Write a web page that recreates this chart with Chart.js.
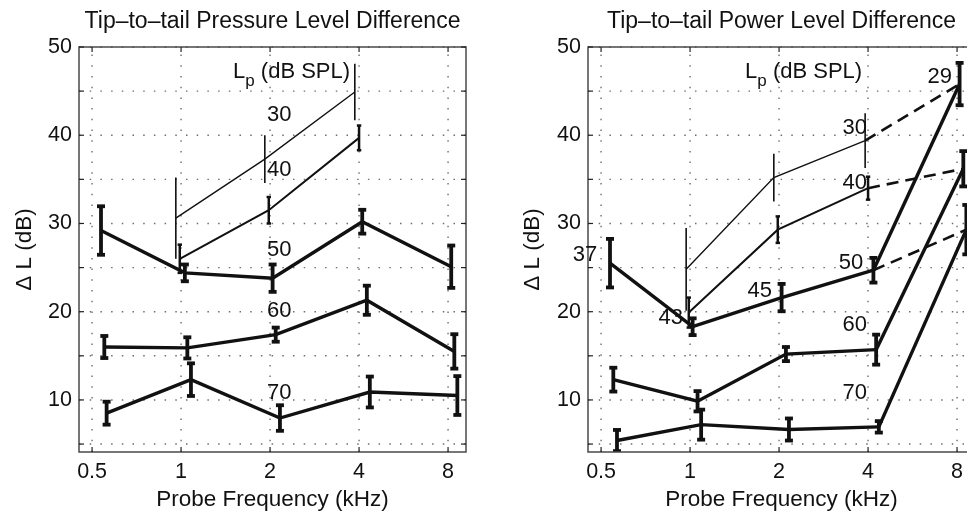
<!DOCTYPE html>
<html>
<head>
<meta charset="utf-8">
<script src="https://cdn.jsdelivr.net/npm/chart.js@4.4.0/dist/chart.umd.min.js"></script>
<style>
html, body { margin: 0; padding: 0; background: #fff; overflow: hidden; width: 967px; height: 513px; }
#wrapL { position: absolute; left: 0; top: 0; width: 480px; height: 513px; }
#wrapR { position: absolute; left: 480px; top: 0; width: 510px; height: 513px; }
</style>
</head>
<body>
<div id="wrapL"><canvas id="pressure" width="480" height="513"></canvas></div>
<div id="wrapR"><canvas id="power" width="510" height="513"></canvas></div>
<script>
const xTicks = [0.5, 1, 2, 4, 8];
const yTicks = [5, 10, 15, 20, 25, 30, 35, 40, 45, 50];

// left panel: pressure level difference
const pressFreq30 = [0.96, 1.92, 3.87];
const pressMean30 = [30.6, 37.3, 44.9];
const pressErr30 = [4.6, 2.7, 3.2];
const pressFreq40 = [0.99, 1.98, 4.0];
const pressMean40 = [26.0, 31.5, 39.7];
const pressErr40 = [1.6, 1.5, 1.4];
const pressFreq50 = [0.536, 1.03, 2.04, 4.1, 8.2];
const pressMean50 = [29.2, 24.4, 23.8, 30.2, 25.1];
const pressErr50 = [2.75, 0.95, 1.55, 1.35, 2.4];
const pressFreq60 = [0.55, 1.05, 2.09, 4.25, 8.4];
const pressMean60 = [16.0, 15.9, 17.4, 21.3, 15.5];
const pressErr60 = [1.25, 1.2, 0.8, 1.65, 1.95];
const pressFreq70 = [0.56, 1.08, 2.16, 4.35, 8.6];
const pressMean70 = [8.5, 12.3, 7.95, 10.9, 10.5];
const pressErr70 = [1.3, 1.85, 1.45, 1.75, 2.2];

// right panel: power level difference
const powFreq30 = [0.97, 1.92, 3.91];
const powMean30 = [24.8, 35.2, 39.4];
const powErr30 = [4.7, 2.7, 3.1];
const powFreq40 = [0.99, 1.98, 4.0];
const powMean40 = [19.9, 29.3, 34.0];
const powErr40 = [1.7, 1.5, 1.3];
const powFreq50 = [0.536, 1.02, 2.04, 4.17];
const powMean50 = [25.5, 18.3, 21.6, 24.7];
const powErr50 = [2.75, 0.95, 1.55, 1.4];
const powFreq60 = [0.55, 1.06, 2.11, 4.26];
const powMean60 = [12.3, 9.85, 15.2, 15.7];
const powErr60 = [1.35, 1.15, 0.8, 1.7];
const powFreq70 = [0.566, 1.09, 2.16, 4.35];
const powMean70 = [5.4, 7.2, 6.65, 6.95];
const powErr70 = [1.2, 1.7, 1.25, 0.65];
const powFreq8k = [8.16, 8.4, 8.6];
const powMean8k = [45.8, 36.2, 29.3];
const powErr8k = [2.4, 2.0, 2.8];

// level labels inside the plots
const pressLabels = ['30', '40', '50', '60', '70'];
const pressLabelFreq = [2.15, 2.15, 2.15, 2.15, 2.15];
const pressLabelVal = [42.3, 36.1, 27.0, 20.1, 10.8];
const powLabels = ['29', '30', '40', '37', '43', '45', '50', '60', '70'];
const powLabelFreq = [7.69, 3.97, 3.97, 0.485, 0.947, 1.893, 3.85, 3.97, 3.97];
const powLabelVal = [46.6, 40.8, 34.6, 26.4, 19.3, 22.4, 25.5, 18.5, 10.8];

const FAMILY = "'Liberation Sans', Arial, sans-serif";
const INK = '#111';

function pts(freq, mean) {
  return freq.map((f, i) => ({ x: f, y: mean[i] }));
}

function series(freq, mean, err, width, barWidth, cap) {
  return {
    data: pts(freq, mean), errors: err,
    borderColor: INK, borderWidth: width, pointRadius: 0,
    barWidth: barWidth, cap: cap, tension: 0
  };
}

function link(f1, v1, f2, v2, width, dash) {
  return {
    data: [{ x: f1, y: v1 }, { x: f2, y: v2 }],
    borderColor: INK, borderWidth: width, borderDash: dash || [], pointRadius: 0
  };
}

function strokeLine(ctx, x1, y1, x2, y2) {
  ctx.beginPath();
  ctx.moveTo(x1, y1);
  ctx.lineTo(x2, y2);
  ctx.stroke();
}

const decor = {
  id: 'decor',
  beforeDatasetsDraw(chart) {
    const { ctx, chartArea: a } = chart;
    const x = chart.scales.x, y = chart.scales.y;
    ctx.save();
    ctx.strokeStyle = '#6e6e6e';
    ctx.lineWidth = 1.4;
    ctx.setLineDash([1.5, 9.2]);
    xTicks.forEach(v => { const px = x.getPixelForValue(v); strokeLine(ctx, px, a.bottom, px, a.top); });
    yTicks.forEach(v => { const py = y.getPixelForValue(v); strokeLine(ctx, a.left, py, a.right, py); });
    ctx.restore();
  },
  afterDatasetsDraw(chart, args, opts) {
    const { ctx, chartArea: a } = chart;
    const x = chart.scales.x, y = chart.scales.y;

    // error bars
    ctx.save();
    ctx.beginPath();
    ctx.rect(a.left, a.top, a.right - a.left, a.bottom - a.top);
    ctx.clip();
    ctx.strokeStyle = INK;
    chart.data.datasets.forEach(ds => {
      if (!ds.errors) return;
      ds.data.forEach((p, i) => {
        const px = x.getPixelForValue(p.x);
        const top = y.getPixelForValue(p.y + ds.errors[i]);
        const bot = y.getPixelForValue(p.y - ds.errors[i]);
        ctx.lineWidth = ds.barWidth;
        strokeLine(ctx, px, top, px, bot);
        if (ds.cap > 0) {
          strokeLine(ctx, px - ds.cap, top, px + ds.cap, top);
          strokeLine(ctx, px - ds.cap, bot, px + ds.cap, bot);
        }
      });
    });
    ctx.restore();

    // box and inward ticks
    ctx.save();
    ctx.strokeStyle = '#4a4a4a';
    ctx.lineWidth = 1.5;
    ctx.strokeRect(a.left, a.top, a.right - a.left, a.bottom - a.top);
    ctx.strokeStyle = '#222';
    ctx.lineWidth = 1.2;
    xTicks.forEach(v => {
      const px = x.getPixelForValue(v);
      strokeLine(ctx, px, a.bottom, px, a.bottom - 5);
      strokeLine(ctx, px, a.top, px, a.top + 5);
    });
    yTicks.forEach(v => {
      const py = y.getPixelForValue(v);
      strokeLine(ctx, a.left, py, a.left + 5, py);
      strokeLine(ctx, a.right, py, a.right - 5, py);
    });
    ctx.restore();

    // labels
    ctx.save();
    ctx.fillStyle = INK;
    ctx.textBaseline = 'middle';
    ctx.font = '22px ' + FAMILY;
    ctx.textAlign = opts.align;
    opts.texts.forEach((t, i) => {
      ctx.fillText(t, x.getPixelForValue(opts.freqs[i]), y.getPixelForValue(opts.vals[i]));
    });
    // L_p (dB SPL)
    const big = '22px ' + FAMILY, small = '17px ' + FAMILY;
    ctx.textAlign = 'left';
    ctx.font = big;
    const wL = ctx.measureText('L').width;
    const wRest = ctx.measureText(' (dB SPL)').width;
    ctx.font = small;
    const wP = ctx.measureText('p').width;
    const endX = x.getPixelForValue(opts.lpFreq);
    const cy = y.getPixelForValue(opts.lpVal);
    const sx = endX - (wL + wP + wRest);
    ctx.font = big;
    ctx.fillText('L', sx, cy);
    ctx.font = small;
    ctx.fillText('p', sx + wL, cy + 10);
    ctx.font = big;
    ctx.fillText(' (dB SPL)', sx + wL + wP, cy);
    ctx.restore();
  }
};

function makeChart(id, datasets, titleText, yWidth, yTitlePad, labelOpts) {
  const tickFont = { family: FAMILY, size: 21.5 };
  const axisFont = { family: FAMILY, size: 22.5 };
  new Chart(document.getElementById(id), {
    type: 'line',
    data: { datasets: datasets },
    options: {
      responsive: false,
      animation: false,
      layout: { padding: { left: 0, right: labelOpts.padRight, top: 0, bottom: 0 } },
      plugins: {
        legend: { display: false },
        tooltip: { enabled: false },
        title: {
          display: true, text: titleText, fullSize: false, color: INK,
          font: { family: FAMILY, size: 23, weight: 'normal' },
          padding: { top: 8.2, bottom: 11.2 }
        },
        decor: labelOpts
      },
      scales: {
        x: {
          type: 'logarithmic', min: 0.4516, max: 9.2,
          afterBuildTicks: s => { s.ticks = xTicks.map(v => ({ value: v })); },
          afterFit: s => { s.height = 61; },
          grid: { display: false, drawTicks: false },
          border: { display: false },
          ticks: { font: tickFont, color: INK, padding: 7, maxRotation: 0, autoSkip: false, callback: v => String(v) },
          title: { display: true, text: 'Probe Frequency (kHz)', color: INK, font: axisFont, padding: { top: 0, bottom: 0 } }
        },
        y: {
          min: 4.1, max: 50,
          afterBuildTicks: s => { s.ticks = yTicks.map(v => ({ value: v })); },
          afterFit: s => { s.width = yWidth; },
          grid: { display: false, drawTicks: false },
          border: { display: false },
          ticks: { font: tickFont, color: INK, padding: 7, autoSkip: false, callback: v => (v % 10 === 0 ? String(v) : '') },
          title: { display: true, text: 'Δ L (dB)', color: INK, font: axisFont, padding: { top: yTitlePad, bottom: 0 } }
        }
      }
    },
    plugins: [decor]
  });
}

makeChart('pressure', [
  series(pressFreq30, pressMean30, pressErr30, 1.4, 1.6, 0),
  series(pressFreq40, pressMean40, pressErr40, 2.0, 2.5, 2.2),
  series(pressFreq50, pressMean50, pressErr50, 3.4, 3.8, 4),
  series(pressFreq60, pressMean60, pressErr60, 3.4, 3.8, 4),
  series(pressFreq70, pressMean70, pressErr70, 3.4, 3.8, 4)
], 'Tip–to–tail Pressure Level Difference', 79, 11.5, {
  texts: pressLabels, freqs: pressLabelFreq, vals: pressLabelVal, align: 'center',
  lpFreq: 3.73, lpVal: 47.2, padRight: 14
});

makeChart('power', [
  series(powFreq30, powMean30, powErr30, 1.4, 1.6, 0),
  series(powFreq40, powMean40, powErr40, 2.0, 2.5, 2.2),
  series(powFreq50, powMean50, powErr50, 3.4, 3.8, 4),
  series(powFreq60, powMean60, powErr60, 3.4, 3.8, 4),
  series(powFreq70, powMean70, powErr70, 3.4, 3.8, 4),
  Object.assign(series(powFreq8k, powMean8k, powErr8k, 0, 3.8, 4), { showLine: false }),
  link(powFreq50[3], powMean50[3], powFreq8k[0], powMean8k[0], 3.4),
  link(powFreq60[3], powMean60[3], powFreq8k[1], powMean8k[1], 3.4),
  link(powFreq70[3], powMean70[3], powFreq8k[2], powMean8k[2], 3.4),
  link(powFreq30[2], powMean30[2], powFreq8k[0], powMean8k[0], 2.6, [12, 7]),
  link(powFreq40[2], powMean40[2], powFreq8k[1], powMean8k[1], 2.6, [12, 7]),
  link(powFreq50[3], powMean50[3], powFreq8k[2], powMean8k[2], 2.6, [12, 7])
], 'Tip–to–tail Power Level Difference', 108, 39.5, {
  texts: powLabels, freqs: powLabelFreq, vals: powLabelVal, align: 'right',
  lpFreq: 3.82, lpVal: 47.2, padRight: 15
});
</script>
</body>
</html>
